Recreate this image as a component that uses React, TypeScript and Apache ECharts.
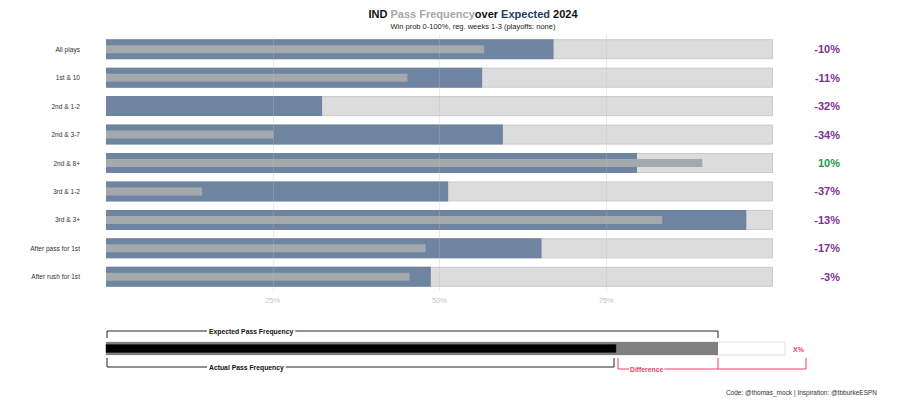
import React, { useEffect, useRef } from "react";
import * as echarts from "echarts";

const categories = [
  "All plays",
  "1st & 10",
  "2nd & 1-2",
  "2nd & 3-7",
  "2nd & 8+",
  "3rd & 1-2",
  "3rd & 3+",
  "After pass for 1st",
  "After rush for 1st",
];
const expectedPct = [67.1, 56.4, 32.4, 59.5, 79.6, 51.3, 96.0, 65.3, 48.7];
const actualPct = [56.7, 45.2, 0, 25.1, 89.4, 14.4, 83.4, 47.9, 45.5];
const diffLabels = [-10, -11, -32, -34, 10, -37, -13, -17, -3];
const xTicks = [0, 25, 50, 75, 100];

const FONT = "Liberation Sans, Arial, Helvetica, sans-serif";
const PURPLE = "#7b3294";
const GREEN = "#1a9850";
const RED = "#e8436a";

export default function App() {
  const ref = useRef<HTMLDivElement>(null);
  useEffect(() => {
    if (!ref.current) return;
    const chart = echarts.init(ref.current, undefined, { renderer: "svg" });
    const option: any = {
      animation: false,
      backgroundColor: "#ffffff",
      textStyle: { fontFamily: FONT },
      grid: { left: 106, right: 127, top: 35, height: 256, containLabel: false },
      xAxis: {
        type: "value",
        min: xTicks[0],
        max: xTicks[xTicks.length - 1],
        interval: 25,
        z: 5,
        axisLine: { show: false },
        axisTick: { show: false },
        axisLabel: {
          color: "#c4c4c4",
          fontSize: 7.5,
          margin: 5,
          fontFamily: FONT,
          formatter: (v: number) => (v === 0 || v === 100 ? "" : v + "%"),
        },
        splitLine: {
          show: true,
          showMinLine: false,
          showMaxLine: false,
          lineStyle: { color: "rgba(190,190,190,0.3)", width: 1 },
        },
      },
      yAxis: [
        {
          type: "category",
          data: categories,
          inverse: true,
          axisLine: { show: false },
          axisTick: { show: false },
          splitLine: { show: false },
          axisLabel: { color: "#333333", fontSize: 6.6, margin: 26, fontFamily: FONT },
        },
        {
          type: "category",
          data: categories,
          inverse: true,
          show: false,
        },
      ],
      series: [
        {
          type: "bar",
          yAxisIndex: 0,
          barWidth: 20,
          barGap: "-100%",
          silent: true,
          itemStyle: { color: "#dcdcdc", borderColor: "#c9c9c9", borderWidth: 1 },
          data: categories.map((c, i) => ({
            value: 100,
            label: { color: diffLabels[i] >= 0 ? GREEN : PURPLE },
          })),
          label: {
            show: true,
            position: "right",
            distance: 67,
            align: "right",
            fontSize: 11,
            fontWeight: "bold",
            fontFamily: FONT,
            formatter: (p: any) => diffLabels[p.dataIndex] + "%",
          },
        },
        {
          type: "bar",
          yAxisIndex: 0,
          barWidth: 20,
          barGap: "-100%",
          silent: true,
          itemStyle: { color: "#6e84a0" },
          data: expectedPct,
        },
        {
          type: "bar",
          yAxisIndex: 1,
          barWidth: 8,
          silent: true,
          itemStyle: { color: "#a3a9ac" },
          data: actualPct,
        },
      ],
      graphic: [
        {
          type: "text",
          style: {
            x: 473,
            y: 14,
            align: "center",
            verticalAlign: "middle",
            text: "{b|IND }{g|Pass Frequency}{b|over }{n|Expected}{b| 2024}",
            rich: {
              b: { fontSize: 11, fontWeight: "bold", fill: "#111", fontFamily: FONT },
              g: { fontSize: 11, fontWeight: "bold", fill: "#a3a9ac", fontFamily: FONT },
              n: { fontSize: 11, fontWeight: "bold", fill: "#1f3c66", fontFamily: FONT },
            },
          },
        },
        {
          type: "text",
          style: {
            x: 473,
            y: 26,
            align: "center",
            verticalAlign: "middle",
            text: "Win prob 0-100%, reg. weeks 1-3 (playoffs: none)",
            fontSize: 7.5,
            fontFamily: FONT,
            fill: "#222",
          },
        },
        {
          type: "rect",
          shape: { x: 106, y: 342, width: 679, height: 13 },
          style: { fill: "#ffffff", stroke: "#e2e2e2", lineWidth: 1 },
        },
        {
          type: "rect",
          shape: { x: 106, y: 342, width: 612, height: 13 },
          style: { fill: "#808080" },
        },
        {
          type: "rect",
          shape: { x: 106, y: 344.5, width: 510, height: 8 },
          style: { fill: "#000000", stroke: "#222", lineWidth: 0.5 },
        },
        {
          type: "polyline",
          shape: { points: [[107, 338], [107, 331], [718, 331], [718, 338]] },
          style: { stroke: "#222", lineWidth: 1, fill: null },
        },
        {
          type: "text",
          style: {
            x: 207,
            y: 331,
            verticalAlign: "middle",
            text: "Expected Pass Frequency",
            fontSize: 6.8,
            fontWeight: "bold",
            fontFamily: FONT,
            fill: "#111",
            backgroundColor: "#fff",
            padding: [0, 2],
          },
        },
        {
          type: "polyline",
          shape: { points: [[107, 358], [107, 367], [614, 367], [614, 358]] },
          style: { stroke: "#222", lineWidth: 1, fill: null },
        },
        {
          type: "text",
          style: {
            x: 207,
            y: 367,
            verticalAlign: "middle",
            text: "Actual Pass Frequency",
            fontSize: 6.8,
            fontWeight: "bold",
            fontFamily: FONT,
            fill: "#111",
            backgroundColor: "#fff",
            padding: [0, 2],
          },
        },
        {
          type: "polyline",
          shape: { points: [[618, 358], [618, 369], [806, 369], [806, 358]] },
          style: { stroke: RED, lineWidth: 1, fill: null },
        },
        {
          type: "line",
          shape: { x1: 718, y1: 358, x2: 718, y2: 369 },
          style: { stroke: RED, lineWidth: 1 },
        },
        {
          type: "text",
          style: {
            x: 629,
            y: 369,
            verticalAlign: "middle",
            text: "Difference",
            fontSize: 6.8,
            fontWeight: "bold",
            fontFamily: FONT,
            fill: RED,
            backgroundColor: "#fff",
            padding: [0, 1],
          },
        },
        {
          type: "text",
          style: {
            x: 793,
            y: 349,
            verticalAlign: "middle",
            text: "X%",
            fontSize: 7,
            fontWeight: "bold",
            fontFamily: FONT,
            fill: RED,
          },
        },
        {
          type: "text",
          style: {
            x: 877,
            y: 392,
            align: "right",
            verticalAlign: "middle",
            text: "Code: @thomas_mock | Inspiration: @tbburkeESPN",
            fontSize: 6.5,
            fontFamily: FONT,
            fill: "#333",
          },
        },
      ],
    };
    chart.setOption(option);
    return () => chart.dispose();
  }, []);
  return (
    <div
      ref={ref}
      style={{ position: "fixed", left: 0, top: 0, width: 900, height: 405 }}
    />
  );
}
